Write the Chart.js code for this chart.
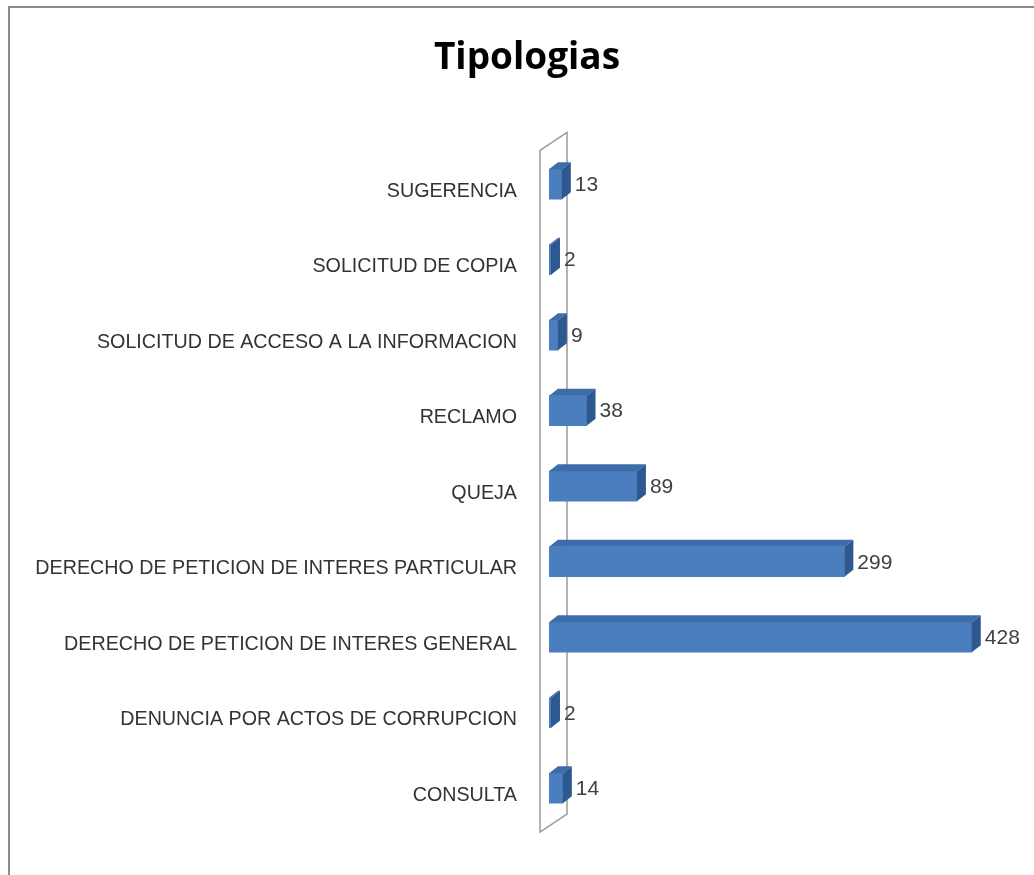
<!DOCTYPE html>
<html>
<head>
<meta charset="utf-8">
<script src="https://cdn.jsdelivr.net/npm/chart.js@4"></script>
<style>
  html, body { margin: 0; padding: 0; background: #fff; }
  #wrap { position: relative; width: 1034px; height: 875px; overflow: hidden; }
  #frame { position: absolute; left: 8px; top: 6px; width: 1100px; height: 1000px; border: 2px solid #8c8c8c; box-sizing: border-box; }
  canvas { position: absolute; left: 0; top: 0; }
</style>
</head>
<body>
<div id="wrap">
  <div id="frame"></div>
  <canvas id="chart" width="1034" height="875"></canvas>
</div>
<script>
const categories = [
  'SUGERENCIA',
  'SOLICITUD DE COPIA',
  'SOLICITUD DE ACCESO A LA INFORMACION',
  'RECLAMO',
  'QUEJA',
  'DERECHO DE PETICION DE INTERES PARTICULAR',
  'DERECHO DE PETICION DE INTERES GENERAL',
  'DENUNCIA POR ACTOS DE CORRUPCION',
  'CONSULTA'
];
const values = [13, 2, 9, 38, 89, 299, 428, 2, 14];

const DEPTH_X = 9, DEPTH_Y = -7;

// back wall + 3D faces + value labels
const fake3d = {
  id: 'fake3d',
  beforeDatasetsDraw(chart) {
    const { ctx, chartArea } = chart;
    const x0 = chartArea.left - 9, x1 = x0 + 27;
    const t = chartArea.top + 4, b = chartArea.bottom + 6;
    ctx.save();
    ctx.beginPath();
    ctx.moveTo(x0, t);
    ctx.lineTo(x1, t - 18);
    ctx.lineTo(x1, b - 18);
    ctx.lineTo(x0, b);
    ctx.closePath();
    ctx.fillStyle = '#ffffff';
    ctx.fill();
    ctx.strokeStyle = '#9a9a9a';
    ctx.lineWidth = 1.5;
    ctx.stroke();
    ctx.restore();
  },
  afterDatasetsDraw(chart) {
    const { ctx } = chart;
    const meta = chart.getDatasetMeta(0);
    ctx.save();
    meta.data.forEach((bar, i) => {
      const p = bar.getProps(['x', 'y', 'base', 'height'], true);
      const top = p.y - p.height / 2, bot = p.y + p.height / 2;
      // top face
      ctx.beginPath();
      ctx.moveTo(p.base, top);
      ctx.lineTo(p.base + DEPTH_X, top + DEPTH_Y);
      ctx.lineTo(p.x + DEPTH_X, top + DEPTH_Y);
      ctx.lineTo(p.x, top);
      ctx.closePath();
      ctx.fillStyle = '#3d6caa';
      ctx.fill();
      // side face
      ctx.beginPath();
      ctx.moveTo(p.x, top);
      ctx.lineTo(p.x + DEPTH_X, top + DEPTH_Y);
      ctx.lineTo(p.x + DEPTH_X, bot + DEPTH_Y);
      ctx.lineTo(p.x, bot);
      ctx.closePath();
      ctx.fillStyle = '#2d5890';
      ctx.fill();
      // value
      ctx.fillStyle = '#404040';
      ctx.font = '21px "Liberation Sans", sans-serif';
      ctx.textAlign = 'left';
      ctx.textBaseline = 'middle';
      ctx.fillText(String(values[i]), p.x + DEPTH_X + 4, p.y + 1);
    });
    ctx.restore();
  }
};

new Chart(document.getElementById('chart'), {
  type: 'bar',
  data: {
    labels: categories,
    datasets: [{
      data: values,
      backgroundColor: '#4a7ebf',
      borderWidth: 0,
      barThickness: 30
    }]
  },
  options: {
    indexAxis: 'y',
    responsive: false,
    animation: false,
    // negative right padding shifts the title centre to match the original
    layout: { padding: { left: 0, right: -20, top: 0, bottom: 49 } },
    plugins: {
      legend: { display: false },
      tooltip: { enabled: false },
      title: {
        display: true,
        text: 'Tipologias',
        color: '#000000',
        font: { family: '"Open Sans", sans-serif', size: 37, weight: 'bold' },
        padding: { top: 36, bottom: 66 }
      }
    },
    scales: {
      x: { display: false, min: 0, max: 491 },
      y: {
        grid: { display: false, drawTicks: false },
        border: { display: false },
        ticks: {
          color: '#333333',
          padding: 32,
          labelOffset: 7,
          font: { family: '"Liberation Sans", sans-serif', size: 19.7 }
        },
        afterFit(scale) { scale.width = 549; }
      }
    }
  },
  plugins: [fake3d]
});
</script>
</body>
</html>
